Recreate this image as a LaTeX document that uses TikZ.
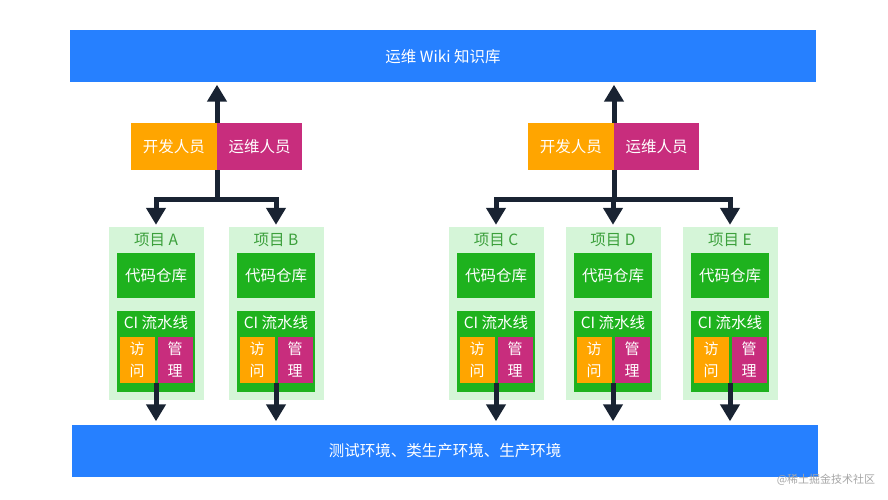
\documentclass[tikz,border=0pt]{standalone}
\usepackage{fontspec}
\setmainfont{Noto Sans CJK SC}
\usetikzlibrary{positioning}
\usetikzlibrary{arrows.meta}
\definecolor{barblue}{RGB}{38,128,255}
\definecolor{devorange}{RGB}{255,165,0}
\definecolor{opsmagenta}{RGB}{200,45,125}
\definecolor{repogreen}{RGB}{30,178,30}
\definecolor{projlight}{RGB}{213,245,216}
\definecolor{titlegreen}{RGB}{60,160,60}
\definecolor{flowdark}{RGB}{25,35,50}
\tikzset{x=1pt,y=-1pt,
    every node/.style={
        font=\fontsize{15.5}{22}\selectfont,
        inner sep=0pt},
    bar/.style={
        fill=barblue,
        text=white,
        minimum width=746,
        minimum height=52},
    dev/.style={
        fill=devorange,
        text=white,
        minimum width=86,
        minimum height=47},
    ops/.style={
        fill=opsmagenta,
        text=white,
        minimum width=85,
        minimum height=47},
    project/.style={
        fill=projlight,
        minimum width=95,
        minimum height=173},
    repo/.style={
        fill=repogreen,
        text=white,
        minimum width=78,
        minimum height=45},
    cibox/.style={
        fill=repogreen,
        minimum width=78,
        minimum height=81},
    smallbox/.style={
        text=white,
        minimum width=35,
        minimum height=46,
        align=center,
        font=\fontsize{15}{22}\selectfont},
    flow/.style={
        draw=flowdark,
        line width=5pt,
        -{Triangle[width=19pt,length=17pt]}}}

\begin{document}
\begin{tikzpicture}
    \useasboundingbox (0,0) rectangle (888,500);

    \node[bar] (wiki) at (443,56.5) {运维 Wiki 知识库};
    \node[bar] (env) at (445,450.5) {测试环境、类生产环境、生产环境};

    % people
    \node[dev,anchor=east] (devL) at (217,146.5) {开发人员};
    \node[ops,right=0pt of devL] (opsL) {运维人员};
    \node[dev,anchor=east] (devR) at (614,146.5) {开发人员};
    \node[ops,right=0pt of devR] (opsR) {运维人员};

    % projects
    \foreach \p/\cx in {A/156,B/276,C/496,D/613,E/730}{
        \node[project] (proj\p) at (\cx,313.5) {};
        \node[text=titlegreen] (title\p) at (\cx,240) {项目 \p};
        \node[repo] (repo\p) at (\cx,275.5) {代码仓库};
        \node[cibox] (ci\p) at (\cx,351.5) {};
        \node[text=white,below=4pt of ci\p.north] (citext\p) {CI 流水线};
        \node[smallbox,fill=devorange] (acc\p) at (\cx-19,360) {访\\问};
        \node[smallbox,fill=opsmagenta] (mgr\p) at (\cx+19,360) {管\\理};
        \draw[flow,shorten >=3pt] (ci\p.center |- acc\p.south) -- (ci\p.center |- env.north);
    }

    % to the wiki
    \draw[flow,shorten >=2pt] (devL.north east) -- (devL.north east |- wiki.south);
    \draw[flow,shorten >=2pt] (devR.north east) -- (devR.north east |- wiki.south);

    % to the projects
    \coordinate (splitL) at (217,199);
    \coordinate (splitR) at (614,199);
    \draw[flowdark,line width=5pt] (devL.south east) -- (splitL);
    \draw[flowdark,line width=5pt] (devR.south east) -- (splitR);
    \draw[flow,shorten >=2pt] (splitL) -| (projA.north);
    \draw[flow,shorten >=2pt] (splitL) -| (projB.north);
    \draw[flow,shorten >=2pt] (splitR) -| (projC.north);
    \draw[flow,shorten >=2pt] (splitR) -| (projD.north);
    \draw[flow,shorten >=2pt] (splitR) -| (projE.north);

    \node[text=black!35,font=\fontsize{11}{12}\selectfont] (mark) at (826,480) {@稀土掘金技术社区};
\end{tikzpicture}
\end{document}
